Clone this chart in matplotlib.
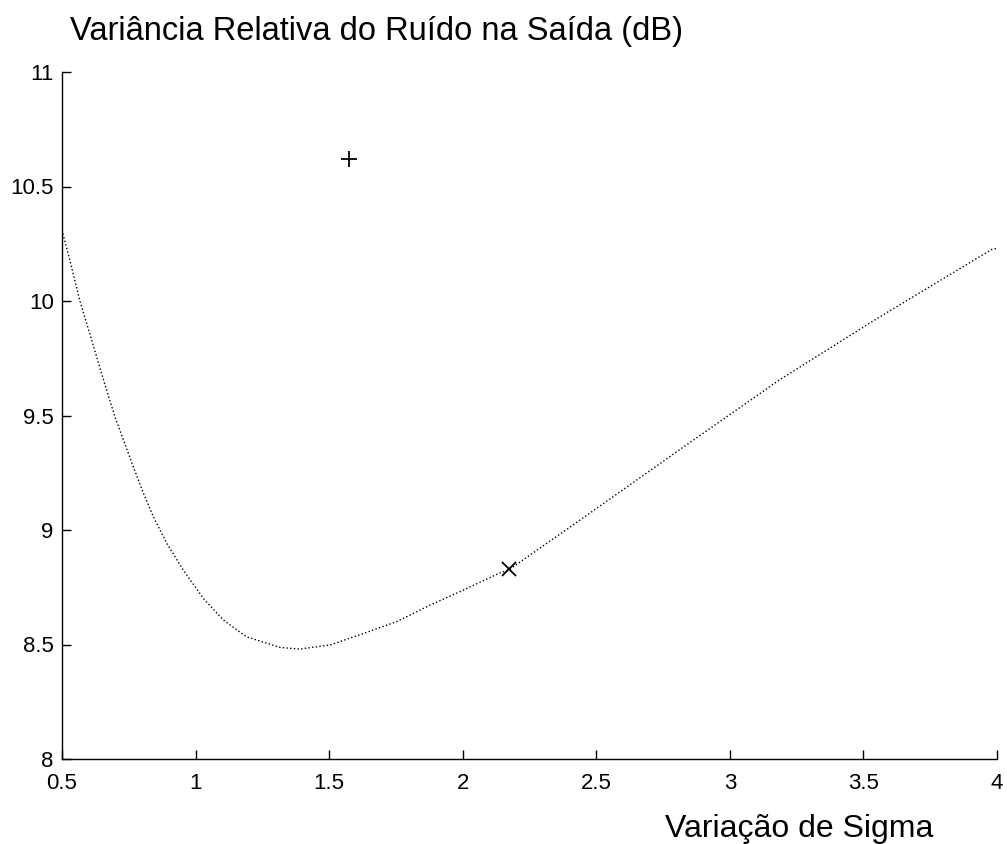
import matplotlib
matplotlib.use("Agg")
import matplotlib.pyplot as plt

plt.rcParams['font.family'] = ['Liberation Sans', 'DejaVu Sans']

# curve
sigma = [0.5, 0.53, 0.567, 0.611, 0.648, 0.698, 0.73, 0.767, 0.805, 0.842,
         0.892, 0.954, 1.03, 1.104, 1.19, 1.317, 1.39, 1.504, 1.628, 1.753,
         1.878, 2.003, 2.134, 2.175, 2.44, 2.81, 3.185, 3.56, 3.98, 4.0]
variancia = [10.31, 10.175, 10.0, 9.83, 9.684, 9.495, 9.393, 9.276, 9.16, 9.058,
             8.942, 8.825, 8.70, 8.607, 8.534, 8.487, 8.48, 8.498, 8.548, 8.6,
             8.672, 8.738, 8.81, 8.828, 9.044, 9.349, 9.655, 9.93, 10.225, 10.23]

# markers
plus_x, plus_y = [1.575], [10.62]
cross_x, cross_y = [2.175], [8.828]

fig = plt.figure(figsize=(10.07, 8.44), dpi=100)
ax = fig.add_axes([62 / 1007, 1 - 759 / 844, 935 / 1007, 687 / 844])

ax.plot(sigma, variancia, ls=':', color='black', lw=1.0)
ax.plot(plus_x, plus_y, '+', color='black', ms=11, mew=1.3)
ax.plot(cross_x, cross_y, 'x', color='black', ms=10, mew=1.3)

ax.set_xlim(0.5, 4)
ax.set_ylim(8, 11)
ax.set_xticks([0.5, 1, 1.5, 2, 2.5, 3, 3.5, 4])
ax.set_xticklabels(['0.5', '1', '1.5', '2', '2.5', '3', '3.5', '4'])
ax.set_yticks([8, 8.5, 9, 9.5, 10, 10.5, 11])
ax.set_yticklabels(['8', '8.5', '9', '9.5', '10', '10.5', '11'])

ax.spines['top'].set_visible(False)
ax.spines['right'].set_visible(False)
for s in ['left', 'bottom']:
    ax.spines[s].set_linewidth(1.0)
ax.tick_params(direction='in', length=6.5, width=1.0, labelsize=16)
ax.tick_params(axis='x', pad=10)
ax.tick_params(axis='y', pad=6)

fig.text(70 / 1007, 1 - 40 / 844, 'Variância Relativa do Ruído na Saída (dB)',
         fontsize=23.5, va='baseline', ha='left')
fig.text(665 / 1007, 1 - 837 / 844, 'Variação de Sigma',
         fontsize=23, va='baseline', ha='left')

fig.savefig('out.png', dpi=100)
